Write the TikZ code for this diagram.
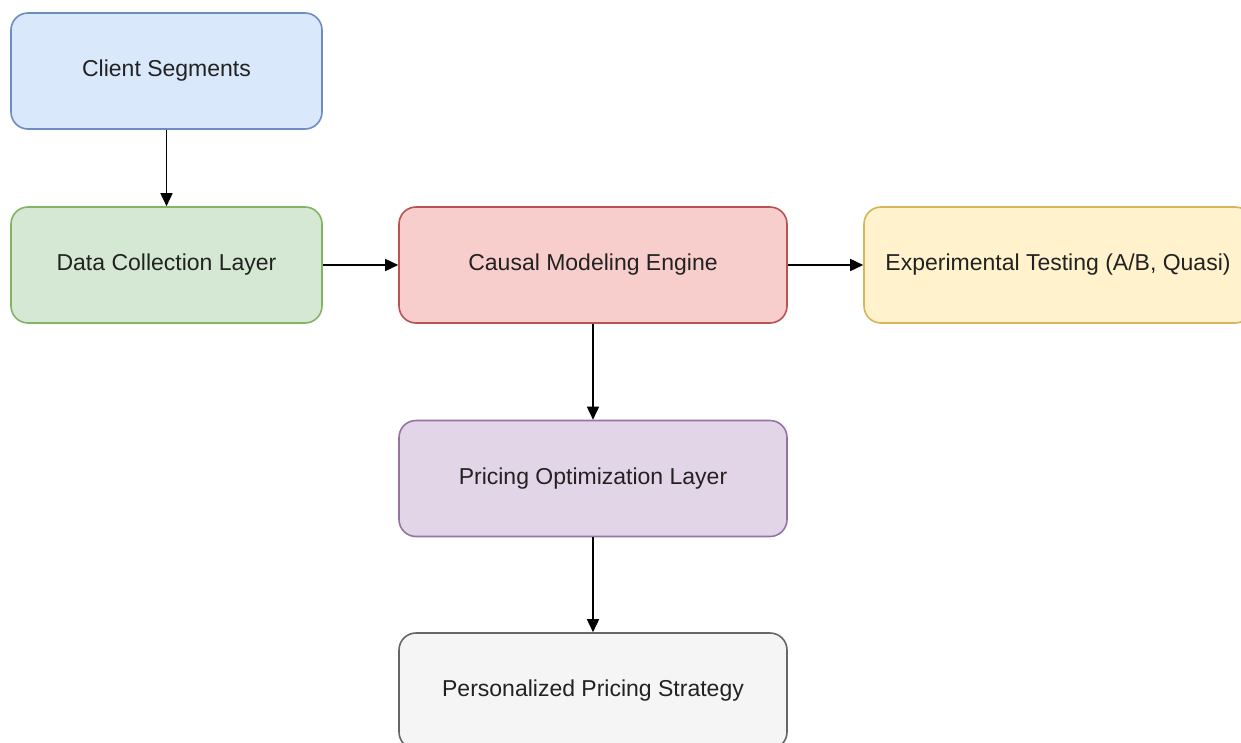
\documentclass[tikz,border=0pt]{standalone}
\usepackage{fontspec}
\setmainfont{Liberation Sans}
\usetikzlibrary{arrows.meta}
\definecolor{bluefill}{HTML}{DAE8FC}\definecolor{bluedraw}{HTML}{6C8EBF}
\definecolor{greenfill}{HTML}{D5E8D4}\definecolor{greendraw}{HTML}{82B366}
\definecolor{redfill}{HTML}{F8CECC}\definecolor{reddraw}{HTML}{B85450}
\definecolor{yellowfill}{HTML}{FFF2CC}\definecolor{yellowdraw}{HTML}{D6B656}
\definecolor{purplefill}{HTML}{E1D5E7}\definecolor{purpledraw}{HTML}{9673A6}
\definecolor{grayfill}{HTML}{F5F5F5}\definecolor{graydraw}{HTML}{666666}
\definecolor{txt}{HTML}{222222}
\begin{document}
\begin{tikzpicture}[x=1pt,y=-1pt,
  box/.style={rectangle,rounded corners=17pt,line width=1.6pt,minimum height=116pt,
    text=txt,font=\fontsize{23}{27}\selectfont,inner sep=0pt},
  conn/.style={line width=1.6pt,-{Triangle[length=13pt,width=12pt]}}]
\useasboundingbox (0,0) rectangle (1241,742);
\clip (0,0) rectangle (1241,742);
\fill[white] (0,0) rectangle (1241,742);
\node[box,minimum width=311pt,fill=bluefill,draw=bluedraw] (client) at (166.5,71) {Client Segments};
\node[box,minimum width=311pt,fill=greenfill,draw=greendraw] (data) at (166.5,265) {Data Collection Layer};
\node[box,minimum width=388pt,fill=redfill,draw=reddraw] (causal) at (593,265) {Causal Modeling Engine};
\node[box,minimum width=388pt,fill=yellowfill,draw=yellowdraw] (exp) at (1058,265) {Experimental Testing (A/B, Quasi)};
\node[box,minimum width=388pt,fill=purplefill,draw=purpledraw] (opt) at (593,478.5) {Pricing Optimization Layer};
\node[box,minimum width=388pt,fill=grayfill,draw=graydraw] (pers) at (593,691) {Personalized Pricing Strategy};
\draw[conn] (client) -- (data);
\draw[conn] (data) -- (causal);
\draw[conn] (causal) -- (exp);
\draw[conn] (causal) -- (opt);
\draw[conn] (opt) -- (pers);
\end{tikzpicture}
\end{document}
